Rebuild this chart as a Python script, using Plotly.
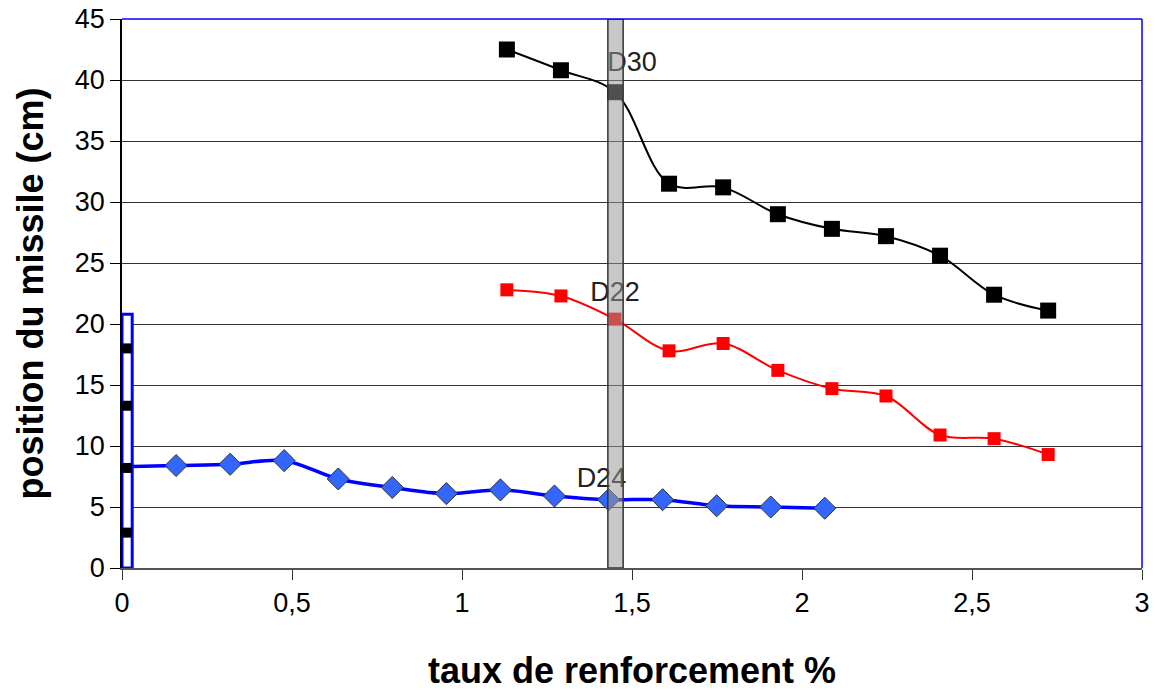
import plotly.graph_objects as go

# Data
x_black = [1.132, 1.291, 1.45, 1.609, 1.768, 1.929, 2.088, 2.247, 2.406, 2.565, 2.724]
y_black = [42.5, 40.8, 39.0, 31.5, 31.2, 29.0, 27.8, 27.2, 25.6, 22.4, 21.1]

x_red = [1.132, 1.291, 1.45, 1.609, 1.768, 1.929, 2.088, 2.247, 2.406, 2.565, 2.724]
y_red = [22.8, 22.3, 20.4, 17.8, 18.4, 16.2, 14.7, 14.1, 10.9, 10.6, 9.3]

x_blue = [0.0, 0.159, 0.318, 0.477, 0.636, 0.795, 0.954, 1.113, 1.272, 1.431, 1.59, 1.749, 1.908, 2.067]
y_blue = [8.3, 8.4, 8.5, 8.8, 7.3, 6.6, 6.1, 6.4, 5.9, 5.6, 5.6, 5.1, 5.0, 4.9]

x_zero = [0.015, 0.015, 0.015, 0.015]
y_zero = [18.0, 13.3, 8.2, 2.9]

labels = ["D30", "D22", "D24"]
label_x = [1.5, 1.45, 1.41]
label_y = [41.3, 22.4, 7.2]

x_ticks = [0, 0.5, 1, 1.5, 2, 2.5, 3]
x_ticktext = ["0", "0,5", "1", "1,5", "2", "2,5", "3"]
y_ticks = [0, 5, 10, 15, 20, 25, 30, 35, 40, 45]

rect_x = [0.0, 0.03]
rect_y = [0.0, 20.8]
bar_x = [1.429, 1.474]
bar_y = [0.0, 45.0]

FONT = "Arial, Liberation Sans, sans-serif"

fig = go.Figure()

for lx, ly, lt in zip(label_x, label_y, labels):
    fig.add_trace(go.Scatter(x=[lx], y=[ly], mode="text", text=[lt],
                             textfont=dict(family=FONT, size=27, color="#222"),
                             showlegend=False, hoverinfo="skip"))

fig.add_trace(go.Scatter(x=x_blue, y=y_blue, mode="lines+markers",
                         line=dict(color="#0000FF", width=3.5, shape="spline"),
                         marker=dict(symbol="diamond", size=17, color="#3366FF",
                                     line=dict(color="#333333", width=1)),
                         showlegend=False))

fig.add_trace(go.Scatter(x=x_red, y=y_red, mode="lines+markers",
                         line=dict(color="#FF0000", width=2, shape="spline"),
                         marker=dict(symbol="square", size=13, color="#FF0000"),
                         showlegend=False))

fig.add_trace(go.Scatter(x=x_black, y=y_black, mode="lines+markers",
                         line=dict(color="#000000", width=2, shape="spline"),
                         marker=dict(symbol="square", size=16, color="#000000"),
                         showlegend=False))

# blue rectangle at x=0
fig.add_trace(go.Scatter(x=[rect_x[0], rect_x[1], rect_x[1], rect_x[0], rect_x[0]],
                         y=[rect_y[0], rect_y[0], rect_y[1], rect_y[1], rect_y[0]],
                         mode="lines", fill="toself", fillcolor="white",
                         line=dict(color="#0000FF", width=3), cliponaxis=False,
                         showlegend=False, hoverinfo="skip"))

fig.add_trace(go.Scatter(x=x_zero, y=y_zero, mode="markers",
                         marker=dict(symbol="square", size=10, color="#000000"),
                         cliponaxis=False, showlegend=False))

fig.add_shape(type="rect", x0=bar_x[0], x1=bar_x[1], y0=bar_y[0], y1=bar_y[1],
              xref="x", yref="y", layer="above",
              fillcolor="rgba(151,151,151,0.53)", line=dict(color="#333333", width=1.5))

fig.update_layout(
    width=1155, height=690,
    margin=dict(l=122, r=13, t=19, b=122, autoexpand=False),
    paper_bgcolor="white", plot_bgcolor="white",
    font=dict(family=FONT, color="#000"),
    showlegend=False,
)

fig.update_xaxes(range=[0, 3], tickvals=x_ticks, ticktext=x_ticktext,
                 tickfont=dict(size=27, family=FONT, color="#000"),
                 ticks="outside", ticklen=10, tickcolor="#333",
                 showline=True, linecolor="#555", linewidth=2,
                 mirror=False, showgrid=False, zeroline=False, automargin=False)

fig.update_yaxes(range=[0, 45], tickvals=y_ticks,
                 tickfont=dict(size=27, family=FONT, color="#000"),
                 ticks="outside", ticklen=10, tickcolor="#000",
                 ticklabeloverflow="allow",
                 showline=True, linecolor="#000", linewidth=1.5,
                 showgrid=True, gridcolor="#333", gridwidth=1, zeroline=False,
                 automargin=False)

fig.add_annotation(text="<b>position du missile (cm)</b>", xref="paper", yref="paper",
                   x=(30 - 122) / 1020, y=0.5, textangle=-90, showarrow=False,
                   xanchor="center", yanchor="middle",
                   font=dict(size=36, family=FONT, color="#000"))
fig.add_annotation(text="<b>taux de renforcement %</b>", xref="paper", yref="paper",
                   x=0.5, y=(568 - 670) / 549, showarrow=False,
                   xanchor="center", yanchor="middle",
                   font=dict(size=36, family=FONT, color="#000"))

# blue top and right border
fig.add_shape(type="line", xref="paper", yref="paper", x0=0, x1=1, y0=1, y1=1,
              line=dict(color="#0000FF", width=1.5), layer="above")
fig.add_shape(type="line", xref="paper", yref="paper", x0=1, x1=1, y0=0, y1=1,
              line=dict(color="#0000FF", width=1.5), layer="above")

fig.write_html("out.html", config={"displayModeBar": False},
               post_script="document.body.style.margin='0';")
